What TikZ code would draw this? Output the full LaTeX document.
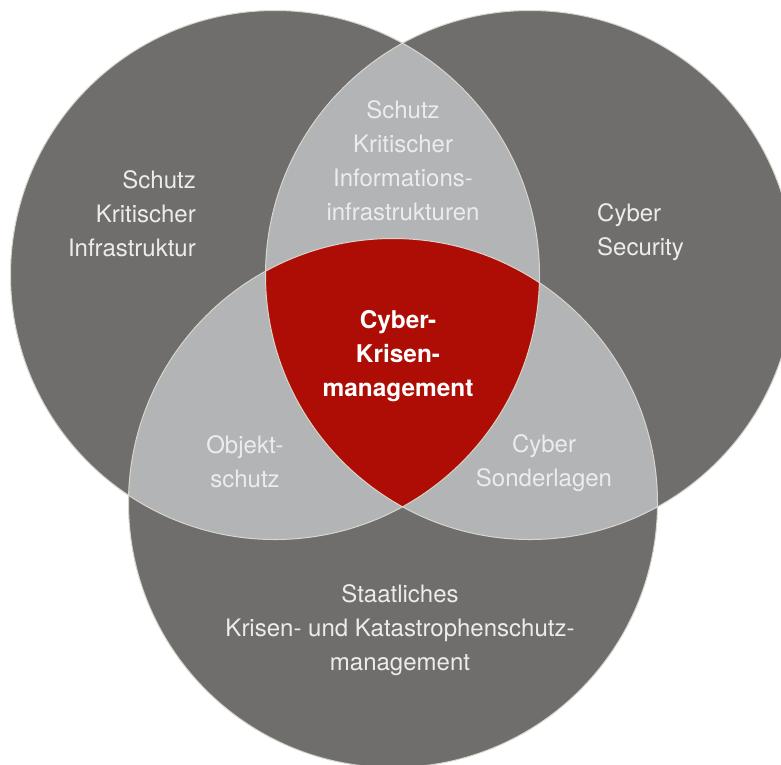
\documentclass[tikz,border=0pt]{standalone}
\usepackage{fontspec}
\setmainfont{TeX Gyre Heros}
\definecolor{darkg}{HTML}{6F6E6C}
\definecolor{lightg}{HTML}{B3B4B6}
\definecolor{redc}{HTML}{AD0D04}
\definecolor{edgec}{HTML}{D8D6CC}
\definecolor{txt}{HTML}{ECECEC}
\begin{document}
\begin{tikzpicture}[x=1pt,y=-1pt,
  lbl/.style={text=txt, font=\fontsize{24}{34}\selectfont, inner sep=0pt},
  boldlbl/.style={text=white, font=\fontsize{24.4}{33.8}\selectfont\bfseries, inner sep=0pt},
  rad/.style={radius=264.5pt}]
\useasboundingbox (0,0) rectangle (781,764);
\clip (0,0) rectangle (781,764);
\coordinate (A) at (275,275);
\coordinate (B) at (530,275);
\coordinate (C) at (393,503);
\fill[darkg] (A) circle[rad];
\fill[darkg] (B) circle[rad];
\fill[darkg] (C) circle[rad];
\begin{scope}
  \clip (A) circle[rad];
  \fill[lightg] (B) circle[rad];
  \fill[lightg] (C) circle[rad];
\end{scope}
\begin{scope}
  \clip (B) circle[rad];
  \fill[lightg] (C) circle[rad];
\end{scope}
\begin{scope}
  \clip (A) circle[rad];
  \clip (B) circle[rad];
  \fill[redc] (C) circle[rad];
\end{scope}
\draw[edgec, line width=1pt] (A) circle[rad];
\draw[edgec, line width=1pt] (B) circle[rad];
\draw[edgec, line width=1pt] (C) circle[rad];
\node[lbl, align=right, anchor=east] (tA) at (196,214) {Schutz\\Kritischer\\Infrastruktur};
\node[lbl, align=center] (tAB) at (403,161) {Schutz\\Kritischer\\Informations-\\infrastrukturen};
\node[lbl, align=left, anchor=west] (tB) at (597,232) {Cyber\\Security};
\node[boldlbl, align=center] (tABC) at (398,356) {Cyber-\\Krisen-\\management};
\node[lbl, align=center] (tAC) at (245,462) {Objekt-\\schutz};
\node[lbl, align=center] (tBC) at (544,463) {Cyber\\Sonderlagen};
\node[lbl, align=center] (tC) at (400,630) {Staatliches\\Krisen- und Katastrophenschutz-\\management};
\end{tikzpicture}
\end{document}
